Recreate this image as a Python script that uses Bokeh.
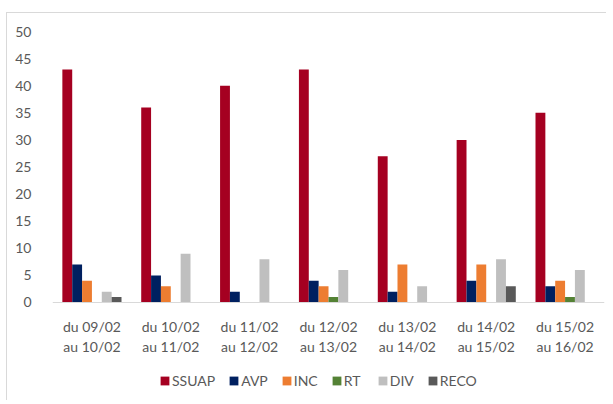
from bokeh.plotting import figure
from bokeh.models import ColumnDataSource, FactorRange, Legend, LegendItem, FixedTicker
from bokeh.transform import dodge
from bokeh.embed import file_html
from bokeh.resources import INLINE

categories = ["du 09/02\nau 10/02", "du 10/02\nau 11/02", "du 11/02\nau 12/02",
              "du 12/02\nau 13/02", "du 13/02\nau 14/02", "du 14/02\nau 15/02",
              "du 15/02\nau 16/02"]
series_names = ["SSUAP", "AVP", "INC", "RT", "DIV", "RECO"]
ssuap = [43, 36, 40, 43, 27, 30, 35]
avp = [7, 5, 2, 4, 2, 4, 3]
inc = [4, 3, 0, 3, 7, 7, 4]
rt = [0, 0, 0, 1, 0, 0, 1]
div = [2, 9, 8, 6, 3, 8, 6]
reco = [1, 0, 0, 0, 0, 3, 0]
y_ticks = [0, 5, 10, 15, 20, 25, 30, 35, 40, 45, 50]

colors = ["#A50021", "#002060", "#ED7D31", "#548235", "#BFBFBF", "#595959"]
FONT = "Lato"
TXT = "#595959"

source = ColumnDataSource(dict(cat=categories, SSUAP=ssuap, AVP=avp, INC=inc,
                               RT=rt, DIV=div, RECO=reco))

# frame extends below the zero line to leave room for labels and legend
p = figure(x_range=FactorRange(*categories, range_padding=0), y_range=(-17.16, 50),
           width=600, height=388, output_backend="svg", toolbar_location=None,
           min_border_left=45, min_border_right=3, min_border_top=18,
           min_border_bottom=6, margin=(12, 0, 0, 6))
p.styles = {"border-left": "1px solid #d9d9d9", "border-top": "1px solid #d9d9d9"}

bw = 0.125
items = []
for i, name in enumerate(series_names):
    off = (i - 2.5) * bw
    r = p.vbar(x=dodge("cat", off, range=p.x_range), top=name, bottom=0, width=bw,
               source=source, color=colors[i], line_color=None)
    items.append(LegendItem(label=name, renderers=[r]))

p.xgrid.visible = False
p.ygrid.visible = False
p.outline_line_color = None

p.xaxis.fixed_location = 0
p.xaxis.axis_line_color = "#d9d9d9"
p.xaxis.major_tick_line_color = None
p.xaxis.minor_tick_line_color = None
p.xaxis.major_label_text_font = FONT
p.xaxis.major_label_text_font_size = "14px"
p.xaxis.major_label_text_color = TXT
p.xaxis.major_label_standoff = 10
p.xaxis.major_label_text_line_height = 1.16

p.yaxis.ticker = FixedTicker(ticks=y_ticks)
p.yaxis.axis_line_color = None
p.yaxis.major_tick_line_color = None
p.yaxis.minor_tick_line_color = None
p.yaxis.major_label_text_font = FONT
p.yaxis.major_label_text_font_size = "14px"
p.yaxis.major_label_text_color = TXT
p.yaxis.major_label_standoff = 15

legend = Legend(items=items, orientation="horizontal", location=(107, 6),
                glyph_width=11, glyph_height=11, label_standoff=2, spacing=13,
                padding=0, margin=0, border_line_color=None,
                background_fill_alpha=0,
                label_text_font=FONT, label_text_font_size="14px",
                label_text_color=TXT)
p.add_layout(legend)

open("out.html", "w").write(file_html(p, INLINE))
